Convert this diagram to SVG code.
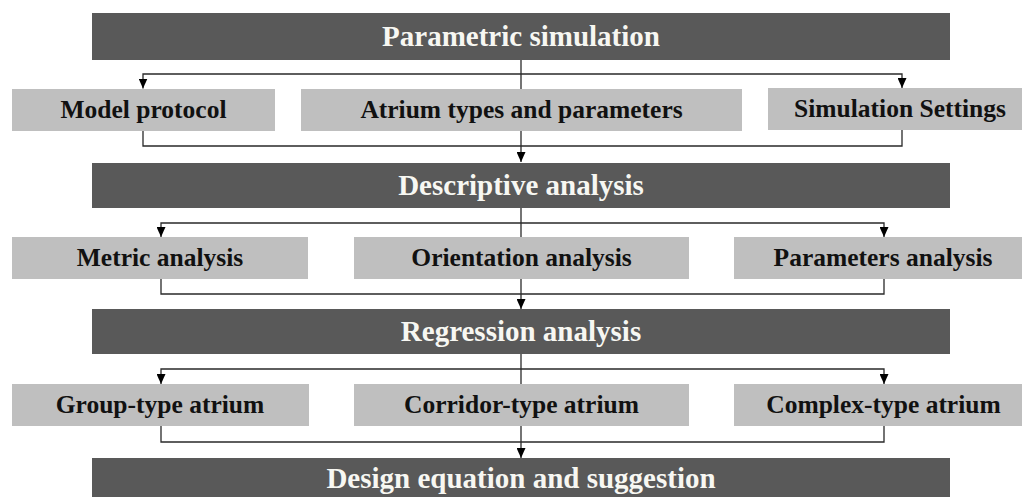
<svg xmlns="http://www.w3.org/2000/svg" width="1022" height="497" viewBox="0 0 1022 497">
  <style>
    .bar { fill: #595959; }
    .box { fill: #bfbfbf; }
    .bar-text { font-family: "Liberation Serif", "DejaVu Serif", serif; font-weight: bold; font-size: 29px; fill: #f7f7f2; text-anchor: middle; }
    .box-text { font-family: "Liberation Serif", "DejaVu Serif", serif; font-weight: bold; font-size: 25.5px; fill: #111111; text-anchor: middle; }
    .wire { fill: none; stroke: #2a2a2a; stroke-width: 1.3; }
  </style>
  <defs>
    <marker id="arrow" markerUnits="userSpaceOnUse" markerWidth="10" markerHeight="9" refX="10" refY="4.5" orient="auto">
      <path d="M0,0 L10,4.5 L0,9 Z" fill="#000000"/>
    </marker>
  </defs>

  <rect width="1022" height="497" fill="#ffffff"/>

  <!-- connectors -->
  <g id="connectors">
    <!-- stage 1 fan-out / fan-in -->
    <path class="wire" d="M521,60 V89"/>
    <path class="wire" d="M521,74 H143 V88.5" marker-end="url(#arrow)"/>
    <path class="wire" d="M521,74 H902 V88" marker-end="url(#arrow)"/>
    <path class="wire" d="M143,131 V146 H902 V130"/>
    <path class="wire" d="M521,131 V162" marker-end="url(#arrow)"/>

    <!-- stage 2 fan-out / fan-in -->
    <path class="wire" d="M521,208 V237"/>
    <path class="wire" d="M521,223 H161 V237" marker-end="url(#arrow)"/>
    <path class="wire" d="M521,223 H884 V237" marker-end="url(#arrow)"/>
    <path class="wire" d="M161,279 V294 H884 V279"/>
    <path class="wire" d="M521,279 V309" marker-end="url(#arrow)"/>

    <!-- stage 3 fan-out / fan-in -->
    <path class="wire" d="M521,354 V384"/>
    <path class="wire" d="M521,369 H161 V384" marker-end="url(#arrow)"/>
    <path class="wire" d="M521,369 H884 V384" marker-end="url(#arrow)"/>
    <path class="wire" d="M161,426 V442 H884 V426"/>
    <path class="wire" d="M521,426 V458" marker-end="url(#arrow)"/>
  </g>

  <!-- main stages -->
  <g id="parametric-simulation">
    <rect class="bar" x="92" y="13" width="858" height="47"/>
    <text class="bar-text" x="521" y="46">Parametric simulation</text>
  </g>
  <g id="model-protocol">
    <rect class="box" x="12" y="89" width="263" height="42"/>
    <text class="box-text" x="143.5" y="118">Model protocol</text>
  </g>
  <g id="atrium-types">
    <rect class="box" x="301" y="89" width="441" height="42"/>
    <text class="box-text" x="521.5" y="118">Atrium types and parameters</text>
  </g>
  <g id="simulation-settings">
    <rect class="box" x="768" y="88" width="264" height="42"/>
    <text class="box-text" x="900" y="117">Simulation Settings</text>
  </g>

  <g id="descriptive-analysis">
    <rect class="bar" x="92" y="163" width="858" height="45"/>
    <text class="bar-text" x="521" y="195">Descriptive analysis</text>
  </g>
  <g id="metric-analysis">
    <rect class="box" x="12" y="237" width="296" height="42"/>
    <text class="box-text" x="160" y="266">Metric analysis</text>
  </g>
  <g id="orientation-analysis">
    <rect class="box" x="354" y="237" width="335" height="42"/>
    <text class="box-text" x="521.5" y="266">Orientation analysis</text>
  </g>
  <g id="parameters-analysis">
    <rect class="box" x="734" y="237" width="298" height="42"/>
    <text class="box-text" x="883" y="266">Parameters analysis</text>
  </g>

  <g id="regression-analysis">
    <rect class="bar" x="92" y="309" width="858" height="45"/>
    <text class="bar-text" x="521" y="341">Regression analysis</text>
  </g>
  <g id="group-type-atrium">
    <rect class="box" x="12" y="384" width="297" height="42"/>
    <text class="box-text" x="160" y="413">Group-type atrium</text>
  </g>
  <g id="corridor-type-atrium">
    <rect class="box" x="354" y="384" width="335" height="42"/>
    <text class="box-text" x="521.5" y="413">Corridor-type atrium</text>
  </g>
  <g id="complex-type-atrium">
    <rect class="box" x="734" y="384" width="298" height="42"/>
    <text class="box-text" x="883.5" y="413">Complex-type atrium</text>
  </g>

  <g id="design-equation">
    <rect class="bar" x="92" y="458" width="858" height="47"/>
    <text class="bar-text" x="521" y="488">Design equation and suggestion</text>
  </g>
</svg>
